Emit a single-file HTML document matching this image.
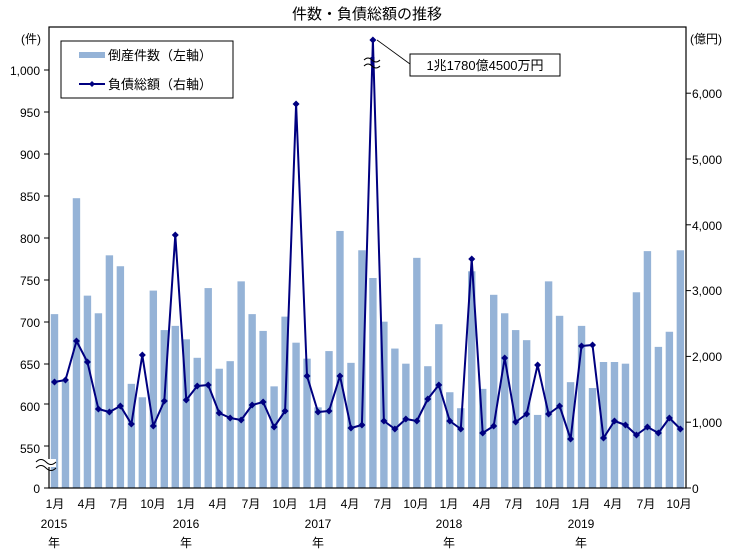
<!DOCTYPE html>
<html><head><meta charset="utf-8"><style>
html,body{margin:0;padding:0;background:#fff;}
svg{display:block;font-family:"Liberation Sans","Noto Sans CJK JP",sans-serif;}
text{fill:#000;}
</style></head><body>
<svg id="c" width="735" height="552" viewBox="0 0 735 552" xmlns="http://www.w3.org/2000/svg">
<rect width="735" height="552" fill="#fff"/>
<text x="367" y="19" font-size="15" text-anchor="middle">件数・負債総額の推移</text>
<g id="bars" fill="#95b3d7"></g>
<rect x="49" y="27" width="637" height="461" fill="none" stroke="#000" stroke-width="1.2"/>
<g id="line"></g>
<g font-size="12" text-anchor="end">
<text x="41" y="43">(件)</text>
<text x="40" y="75">1,000</text>
<text x="40" y="117">950</text>
<text x="40" y="159">900</text>
<text x="40" y="201">850</text>
<text x="40" y="243">800</text>
<text x="40" y="285">750</text>
<text x="40" y="327">700</text>
<text x="40" y="369">650</text>
<text x="40" y="411">600</text>
<text x="40" y="453">550</text>
<text x="40" y="493">0</text>
</g>
<g font-size="12">
<text x="690" y="43">(億円)</text>
<text x="692" y="98">6,000</text>
<text x="692" y="164">5,000</text>
<text x="692" y="230">4,000</text>
<text x="692" y="295">3,000</text>
<text x="692" y="361">2,000</text>
<text x="692" y="427">1,000</text>
<text x="692" y="493">0</text>
</g>
<g stroke="#000" stroke-width="1" id="ticks"></g>
<g font-size="12" text-anchor="middle">
<text x="55" y="508">1月</text><text x="87" y="508">4月</text><text x="119" y="508">7月</text><text x="153" y="508">10月</text>
<text x="186" y="508">1月</text><text x="218" y="508">4月</text><text x="251" y="508">7月</text><text x="285" y="508">10月</text>
<text x="318" y="508">1月</text><text x="350" y="508">4月</text><text x="383" y="508">7月</text><text x="416" y="508">10月</text>
<text x="449" y="508">1月</text><text x="482" y="508">4月</text><text x="514" y="508">7月</text><text x="548" y="508">10月</text>
<text x="581" y="508">1月</text><text x="613" y="508">4月</text><text x="646" y="508">7月</text><text x="679" y="508">10月</text>
<text x="54" y="528">2015</text><text x="54" y="547">年</text>
<text x="186" y="528">2016</text><text x="186" y="547">年</text>
<text x="318" y="528">2017</text><text x="318" y="547">年</text>
<text x="449" y="528">2018</text><text x="449" y="547">年</text>
<text x="581" y="528">2019</text><text x="581" y="547">年</text>
</g>
<!-- axis break left -->
<rect x="36" y="459" width="20" height="8" fill="#fff"/>
<path d="M36 462 q5 -5 10 0 t10 0 M36 468 q5 -5 10 0 t10 0" fill="none" stroke="#000" stroke-width="1"/>
<!-- legend -->
<rect x="61" y="41" width="172" height="57" fill="#fff" stroke="#000" stroke-width="1"/>
<rect x="79" y="52" width="26" height="6" fill="#95b3d7"/>
<text x="108" y="60" font-size="13">倒産件数（左軸）</text>
<line x1="79" y1="84" x2="105" y2="84" stroke="#000080" stroke-width="2"/>
<path d="M92 81 l3 3 -3 3 -3 -3z" fill="#000080"/>
<text x="108" y="89" font-size="13">負債総額（右軸）</text>
<!-- callout -->
<line x1="377" y1="40" x2="410" y2="64" stroke="#000" stroke-width="0.8"/>
<rect x="410" y="54" width="150" height="22" fill="#fff" stroke="#000" stroke-width="1"/>
<text x="485" y="70" font-size="13" text-anchor="middle">1兆1780億4500万円</text>
</svg>
<script>
var B=[707,627,845,729,708,777,764,624,608,735,688,693,677,655,738,642,651,746,707,687,621,704,673,654,596,663,806,649,783,750,698,666,648,774,645,695,614,595,758,618,730,708,688,676,587,746,705,626,693,619,650,650,648,733,782,668,686,783];
var Y=[382,380,341,362,409,412,406,424,355,426,401,235,400,386,385,413,418,420,405,402,427,411,104,376,412,411,376,428,425,40,421,429,419,421,399,385,421,429,259,433,426,358,422,414,365,414,406,439,346,345,438,421,425,435,427,433,418,429];
var ns="http://www.w3.org/2000/svg";
function el(t,a,p){var e=document.createElementNS(ns,t);for(var k in a)e.setAttribute(k,a[k]);p.appendChild(e);return e;}
var bg=document.getElementById('bars'),lg=document.getElementById('line'),tg=document.getElementById('ticks');
var pts=[];
for(var i=0;i<58;i++){var cx=54.5+10.98*i;var y=446-(B[i]-550)*0.84;
el('rect',{x:cx-3.7,y:y,width:7.4,height:488-y},bg);pts.push(cx.toFixed(1)+','+Y[i]);}
el('polyline',{points:pts.join(' '),fill:'none',stroke:'#000080','stroke-width':2,'stroke-linejoin':'round'},lg);
for(var i=0;i<58;i++){var cx=54.5+10.98*i;el('path',{d:'M'+cx+' '+(Y[i]-3.5)+' l3.5 3.5 -3.5 3.5 -3.5 -3.5z',fill:'#000080'},lg);}
// break on peak line
el('rect',{x:364,y:57,width:17,height:8,fill:'#fff'},lg);
el('rect',{x:370.5,y:57,width:4,height:8,fill:'#000080'},lg);
el('path',{d:'M364 60 q4 -4 8 0 t8 0 M364 66 q4 -4 8 0 t8 0',fill:'none',stroke:'#000','stroke-width':1},lg);
// ticks
var L=[70,112,154,196,238,280,322,364,404,446,488];
L.forEach(function(y){el('line',{x1:44,y1:y,x2:49,y2:y},tg);});
for(var v=0;v<=6;v++){var y=488-v*65.8;el('line',{x1:686,y1:y,x2:691,y2:y},tg);}
</script>
</body></html>
